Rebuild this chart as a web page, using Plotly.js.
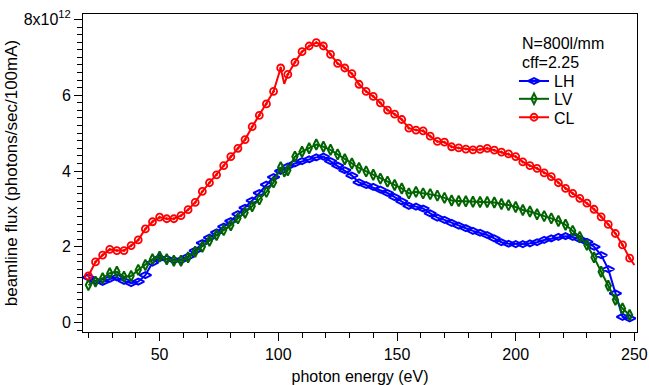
<!DOCTYPE html>
<html>
<head>
<meta charset="utf-8">
<script src="https://cdn.plot.ly/plotly-3.0.1.min.js"></script>
<style>html,body{margin:0;padding:0;background:#fff;}#chart{width:649px;height:385px;}</style>
</head>
<body>
<div id="chart"></div>
<script>
// photon energy (eV) of the marked points
const energy = [20,23,26,29,32,35,38,41,44,47,50,53,56,59,62,65,68,71,74,77,80,83,86,89,92,95,98,101,104,107,110,113,116,119,122,125,128,131,134,137,140,143,146,149,152,155,158,161,164,167,170,173,176,179,182,185,188,191,194,197,200,203,206,209,212,215,218,221,224,227,230,233,236,239,242,245,248];

// beamline flux, units of 1e12 photons/sec/100mA
const fluxLH = [1.19,1.10,1.07,1.15,1.19,1.10,1.04,1.08,1.25,1.58,
  1.70,1.68,1.65,1.65,1.74,1.90,2.10,2.24,2.38,2.53,
  2.68,2.86,3.03,3.22,3.42,3.64,3.84,4.00,4.12,4.20,
  4.26,4.31,4.36,4.38,4.26,4.14,4.02,3.88,3.70,3.63,
  3.58,3.51,3.42,3.31,3.20,3.08,3.06,3.01,2.88,2.77,
  2.71,2.63,2.56,2.49,2.42,2.37,2.31,2.22,2.12,2.08,
  2.07,2.07,2.09,2.12,2.18,2.22,2.26,2.28,2.26,2.20,
  2.13,2.00,1.78,1.41,0.77,0.15,0.11];

const fluxLV = [0.99,1.08,1.17,1.30,1.34,1.21,1.23,1.39,1.52,1.67,
  1.74,1.67,1.63,1.63,1.72,1.87,2.00,2.16,2.31,2.44,
  2.57,2.75,2.90,3.07,3.25,3.45,3.70,4.10,4.02,4.38,
  4.51,4.60,4.70,4.64,4.56,4.44,4.31,4.20,4.08,3.99,
  3.90,3.80,3.72,3.63,3.54,3.41,3.45,3.41,3.39,3.35,
  3.29,3.22,3.21,3.20,3.19,3.18,3.18,3.17,3.13,3.10,
  3.05,2.97,2.93,2.86,2.81,2.75,2.68,2.58,2.42,2.26,
  2.05,1.72,1.34,0.97,0.60,0.37,0.20];

const fluxCL = [1.23,1.60,1.78,1.93,1.90,1.90,2.03,2.18,2.47,2.66,
  2.78,2.74,2.74,2.82,2.98,3.17,3.46,3.69,3.90,4.14,
  4.38,4.60,4.83,5.17,5.47,5.77,6.10,6.72,6.55,6.87,
  7.15,7.30,7.39,7.30,7.08,6.84,6.72,6.57,6.29,6.10,
  5.97,5.80,5.61,5.50,5.36,5.13,5.08,5.06,4.92,4.78,
  4.76,4.64,4.61,4.58,4.56,4.57,4.60,4.55,4.50,4.45,
  4.38,4.24,4.14,4.07,3.95,3.85,3.69,3.54,3.41,3.28,
  3.15,2.99,2.79,2.59,2.35,2.05,1.70];

// unmarked points of the curves (glitch near 102 eV, end point)
const extraLVEnergy = [102.5];
const extraLV = [3.85];
const extraCLEnergy = [102.5, 250];
const extraCL = [6.30, 1.52];

const legendNotes = ['N=800l/mm', 'cff=2.25'];
const yTickVals = [0, 2, 4, 6, 8];
const yTickText = ['0', '2', '4', '6', '8x10<sup>12</sup>'];
const xTickVals = [50, 100, 150, 200, 250];

function combine(e, v, ee, ev) {
  const pts = e.map((x, i) => ({x: x, y: v[i], m: 1}));
  ee.forEach((x, i) => pts.push({x: x, y: ev[i], m: 0}));
  pts.sort((a, b) => a.x - b.x);
  return {x: pts.map(p => p.x), y: pts.map(p => p.y), o: pts.map(p => p.m)};
}

const lv = combine(energy, fluxLV, extraLVEnergy, extraLV);
const cl = combine(energy, fluxCL, extraCLEnergy, extraCL);

const traces = [
  {name: 'LH', legend: 'legend', x: energy, y: fluxLH, type: 'scatter', mode: 'lines+markers',
   line: {color: '#0000ff', width: 2},
   marker: {symbol: 'diamond-wide-open', size: 8.5, color: '#0000ff', line: {width: 2, color: '#0000ff'}}},
  {name: 'LV', legend: 'legend2', x: lv.x, y: lv.y, type: 'scatter', mode: 'lines+markers',
   line: {color: '#006400', width: 2},
   marker: {symbol: 'diamond-tall-open', size: 7.5, color: '#006400', opacity: lv.o, line: {width: 2, color: '#006400'}}},
  {name: 'CL', legend: 'legend3', x: cl.x, y: cl.y, type: 'scatter', mode: 'lines+markers',
   line: {color: '#ff0000', width: 2},
   marker: {symbol: 'circle-open-dot', size: 7, color: '#ff0000', opacity: cl.o, line: {width: 1.8, color: '#ff0000'}}}
];

const legendBase = {x: 0.778, xanchor: 'left', yanchor: 'middle', bgcolor: 'rgba(0,0,0,0)',
  borderwidth: 0, font: {size: 16}, tracegroupgap: 0};

const layout = {
  width: 649, height: 385,
  margin: {l: 83, r: 12, t: 14, b: 53, pad: 0},
  paper_bgcolor: '#ffffff', plot_bgcolor: '#ffffff',
  font: {family: '"Liberation Sans", Arial, sans-serif', size: 16, color: '#000'},
  showlegend: true,
  legend: Object.assign({}, legendBase, {y: 0.789}),
  legend2: Object.assign({}, legendBase, {y: 0.733}),
  legend3: Object.assign({}, legendBase, {y: 0.675}),
  annotations: [
    {text: legendNotes[0], xref: 'paper', yref: 'paper', x: 0.789, y: 0.906, xanchor: 'left', yanchor: 'middle', showarrow: false, font: {size: 16}},
    {text: legendNotes[1], xref: 'paper', yref: 'paper', x: 0.789, y: 0.849, xanchor: 'left', yanchor: 'middle', showarrow: false, font: {size: 16}}
  ],
  xaxis: {
    range: [17.73, 251.1], tickmode: 'array', tickvals: xTickVals,
    ticks: 'outside', ticklen: 8, tickwidth: 1, tickcolor: '#000',
    showline: true, linecolor: '#000', linewidth: 1, mirror: true,
    showgrid: false, zeroline: false,
    minor: {tickmode: 'linear', tick0: 0, dtick: 10, ticks: 'outside', ticklen: 5, tickwidth: 1, tickcolor: '#000', showgrid: false},
    tickfont: {size: 16},
    title: {text: 'photon energy (eV)', font: {size: 16}, standoff: 8}
  },
  yaxis: {
    range: [-0.25, 8.145], tickmode: 'array', tickvals: yTickVals, ticktext: yTickText,
    ticks: 'outside', ticklen: 8, tickwidth: 1, tickcolor: '#000',
    showline: true, linecolor: '#000', linewidth: 1, mirror: true,
    showgrid: false, zeroline: false,
    minor: {tickmode: 'linear', tick0: 0, dtick: 0.2, ticks: 'outside', ticklen: 5, tickwidth: 1, tickcolor: '#000', showgrid: false},
    tickfont: {size: 16},
    title: {text: 'beamline flux (photons/sec/100mA)', font: {size: 17}, standoff: 1}
  }
};

Plotly.newPlot('chart', traces, layout, {displayModeBar: false, staticPlot: true});
</script>
</body>
</html>
